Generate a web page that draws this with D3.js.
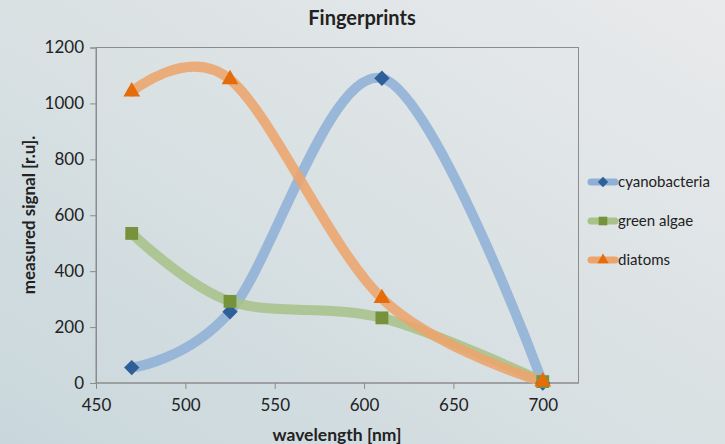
<!DOCTYPE html>
<html>
<head>
<meta charset="utf-8">
<script src="https://cdn.jsdelivr.net/npm/d3@7"></script>
<style>
  html, body { margin: 0; padding: 0; }
  body { width: 725px; height: 444px; overflow: hidden; }
  text { font-family: Lato, "Open Sans", "Liberation Sans", sans-serif; fill: #222; }
</style>
</head>
<body>
<svg id="chart" width="725" height="444"></svg>
<script>
// Wavelengths sampled (nm)
const wavelengths = [470, 525, 610, 700];
// Measured signal per organism group [r.u.]
const cyanobacteria = [55, 255, 1090, 0];
const greenAlgae = [535, 292, 233, 5];
const diatoms = [1042, 1086, 303, 5];

const seriesNames = ["cyanobacteria", "green algae", "diatoms"];
const xTicks = [450, 500, 550, 600, 650, 700];
const yTicks = [0, 200, 400, 600, 800, 1000, 1200];

const series = [
  { name: seriesNames[0], values: cyanobacteria, line: "#8fb0d6", marker: "#2f5f98", shape: d3.symbolDiamond2, size: 150 },
  { name: seriesNames[1], values: greenAlgae, line: "#a9c18a", marker: "#76933c", shape: d3.symbolSquare2, size: 210 },
  { name: seriesNames[2], values: diatoms, line: "#eda46c", marker: "#e46c0a", shape: d3.symbolTriangle2, size: 200 }
];

const svg = d3.select("#chart");

// Background gradient
const defs = svg.append("defs");
const grad = defs.append("linearGradient").attr("id", "bg")
  .attr("x1", "0%").attr("y1", "100%").attr("x2", "100%").attr("y2", "0%");
grad.append("stop").attr("offset", "0%").attr("stop-color", "#c9d7dc");
grad.append("stop").attr("offset", "55%").attr("stop-color", "#dbe2e4");
grad.append("stop").attr("offset", "100%").attr("stop-color", "#e9eaec");
svg.append("rect").attr("width", 725).attr("height", 444).attr("fill", "url(#bg)");

const plot = { left: 96, top: 47.5, right: 578.5, bottom: 383 };

const x = d3.scaleLinear().domain([450, 720]).range([plot.left, plot.right]);
const y = d3.scaleLinear().domain([0, 1200]).range([plot.bottom, plot.top]);

// Plot area border
svg.append("rect")
  .attr("x", plot.left).attr("y", plot.top)
  .attr("width", plot.right - plot.left).attr("height", plot.bottom - plot.top)
  .attr("fill", "none").attr("stroke", "#8c8c8c").attr("stroke-width", 1);

// Axes
const xAxis = svg.append("g")
  .attr("transform", `translate(0,${plot.bottom})`)
  .call(d3.axisBottom(x).tickValues(xTicks).tickFormat(d3.format("d")).tickSize(6).tickPadding(10));
const yAxis = svg.append("g")
  .attr("transform", `translate(${plot.left},0)`)
  .call(d3.axisLeft(y).tickValues(yTicks).tickFormat(d3.format("d")).tickSize(6).tickPadding(6));
[xAxis, yAxis].forEach(g => {
  g.select(".domain").attr("stroke", "#8c8c8c");
  g.selectAll(".tick line").attr("stroke", "#8c8c8c");
  g.selectAll(".tick text").style("font-size", "17px").attr("fill", "#222");
});
xAxis.select(".domain").attr("d", `M${plot.left},0H${plot.right}`);

// Smoothed series lines
const line = d3.line()
  .x((d, i) => x(wavelengths[i]))
  .y(d => y(d))
  .curve(d3.curveCardinal.tension(0));

series.forEach(s => {
  svg.append("path")
    .datum(s.values)
    .attr("d", line)
    .attr("fill", "none")
    .attr("stroke", s.line)
    .attr("stroke-opacity", 0.88)
    .attr("stroke-width", 10)
    .attr("stroke-linecap", "round")
    .attr("stroke-linejoin", "round");
});

// Markers
series.forEach(s => {
  svg.append("g").selectAll("path")
    .data(s.values)
    .join("path")
    .attr("transform", (d, i) => `translate(${x(wavelengths[i])},${y(d)})`)
    .attr("d", d3.symbol().type(s.shape).size(s.size))
    .attr("fill", s.marker);
});

// Title
svg.append("text")
  .attr("x", 362).attr("y", 25)
  .attr("text-anchor", "middle")
  .style("font-size", "20px").style("font-weight", "bold")
  .text("Fingerprints");

// Axis titles
svg.append("text")
  .attr("x", 337).attr("y", 441)
  .attr("text-anchor", "middle")
  .style("font-size", "17.5px").style("font-weight", "bold")
  .text("wavelength [nm]");
svg.append("text")
  .attr("transform", "translate(35,215) rotate(-90)")
  .attr("text-anchor", "middle")
  .style("font-size", "17px").style("font-weight", "bold")
  .text("measured signal [r.u].");

// Legend
const legend = svg.append("g");
series.forEach((s, i) => {
  const ly = 182 + i * 39;
  legend.append("line")
    .attr("x1", 591).attr("x2", 615).attr("y1", ly).attr("y2", ly)
    .attr("stroke", s.line).attr("stroke-width", 7).attr("stroke-linecap", "round");
  legend.append("path")
    .attr("transform", `translate(603,${ly})`)
    .attr("d", d3.symbol().type(s.shape).size(s.size * 0.45))
    .attr("fill", s.marker);
  legend.append("text")
    .attr("x", 618).attr("y", ly + 5)
    .style("font-size", "15px")
    .text(s.name);
});
</script>
</body>
</html>
